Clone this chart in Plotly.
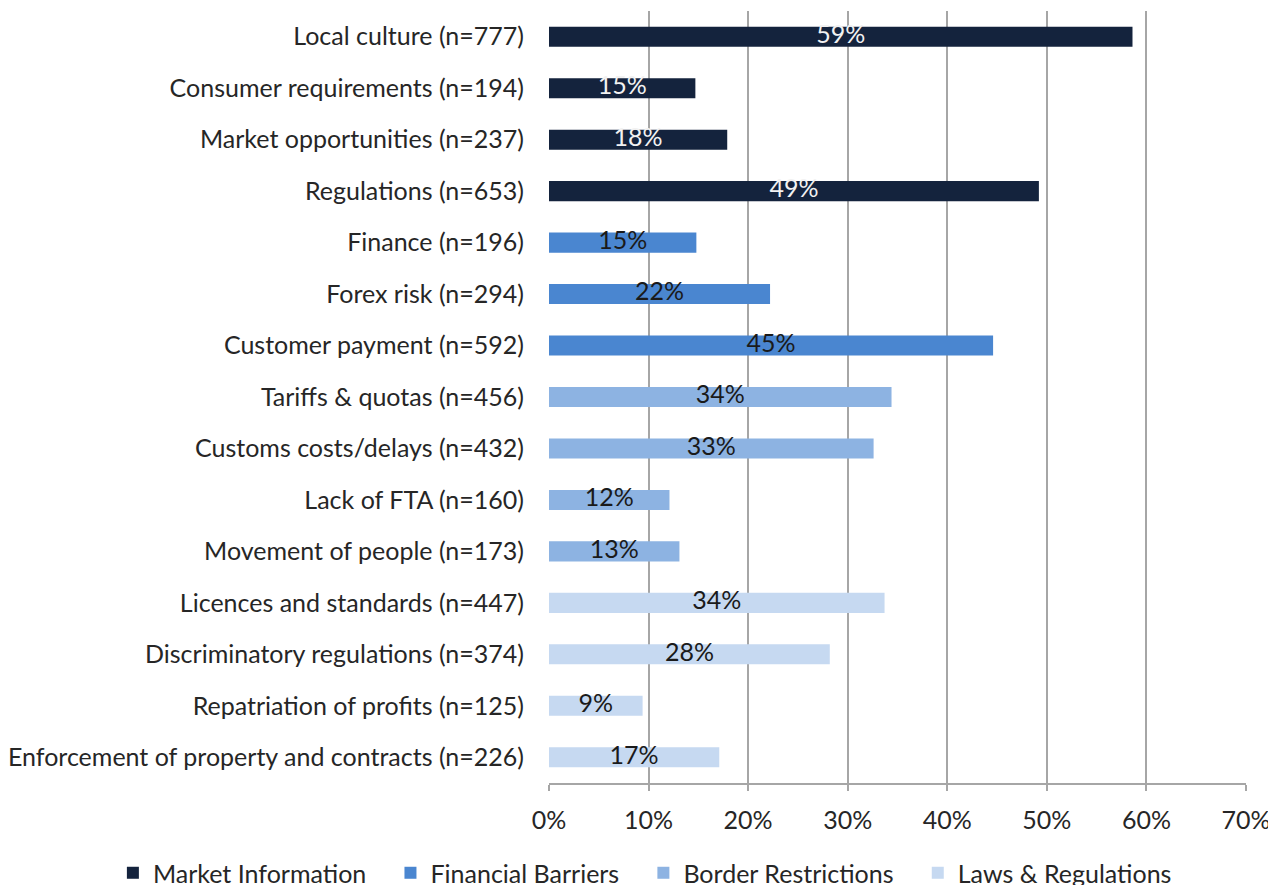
import plotly.graph_objects as go

categories = [
    "Local culture (n=777)",
    "Consumer requirements (n=194)",
    "Market opportunities (n=237)",
    "Regulations (n=653)",
    "Finance (n=196)",
    "Forex risk (n=294)",
    "Customer payment (n=592)",
    "Tariffs & quotas (n=456)",
    "Customs costs/delays (n=432)",
    "Lack of FTA (n=160)",
    "Movement of people (n=173)",
    "Licences and standards (n=447)",
    "Discriminatory regulations (n=374)",
    "Repatriation of profits (n=125)",
    "Enforcement of property and contracts (n=226)",
]
values = [0.586, 0.147, 0.179, 0.492, 0.148, 0.222, 0.446, 0.344, 0.326, 0.121, 0.131, 0.337, 0.282, 0.094, 0.171]
groups = ["Market Information"] * 4 + ["Financial Barriers"] * 3 + ["Border Restrictions"] * 4 + ["Laws & Regulations"] * 4
group_names = ["Market Information", "Financial Barriers", "Border Restrictions", "Laws & Regulations"]
group_colors = {"Market Information": "#14233D", "Financial Barriers": "#4A86D0",
                "Border Restrictions": "#8DB3E2", "Laws & Regulations": "#C6D9F1"}
label_colors = {"Market Information": "#F2F2F2", "Financial Barriers": "#1A1A1A",
                "Border Restrictions": "#1A1A1A", "Laws & Regulations": "#1A1A1A"}
x_ticks = [0, 0.1, 0.2, 0.3, 0.4, 0.5, 0.6, 0.7]

FONT = "Lato, Carlito, 'Open Sans', sans-serif"
FS = 25
PAD = "\u00a0" * 3

fig = go.Figure()
for i, g in enumerate(group_names):
    ys = [c for c, gg in zip(categories, groups) if gg == g]
    xs = [v for v, gg in zip(values, groups) if gg == g]
    fig.add_trace(go.Bar(
        y=ys, x=xs, orientation="h",
        name=g + (PAD if i < len(group_names) - 1 else ""),
        marker=dict(color=group_colors[g], line=dict(width=0)),
        width=0.39,
    ))
for g in group_names:
    ys = [c for c, gg in zip(categories, groups) if gg == g]
    xs = [v for v, gg in zip(values, groups) if gg == g]
    fig.add_trace(go.Scatter(
        y=ys, x=[v / 2 for v in xs], mode="text",
        text=[f"{round(v * 100):d}%" for v in xs],
        textposition="middle center",
        textfont=dict(family=FONT, size=FS, color=label_colors[g]),
        showlegend=False, hoverinfo="skip",
    ))

fig.update_layout(
    width=1276, height=900,
    margin=dict(l=541, r=38, t=3, b=125),
    paper_bgcolor="white", plot_bgcolor="white",
    barmode="relative",
    font=dict(family=FONT, size=FS, color="#262626"),
    showlegend=True,
    legend=dict(orientation="h", xref="paper", x=-0.6257, xanchor="left",
                yref="paper", y=-0.1166, yanchor="middle",
                font=dict(family=FONT, size=FS, color="#262626"),
                itemwidth=30, traceorder="normal"),
)
fig.update_xaxes(
    range=[0, 0.7], tickvals=x_ticks, tickformat=".0%",
    showgrid=True, gridcolor="#A6A6A6", gridwidth=1.5,
    showline=True, linecolor="#A6A6A6", linewidth=1.5,
    ticks="outside", ticklen=6, tickcolor="#A6A6A6", tickwidth=1.5,
    zeroline=False, ticklabelstandoff=8, automargin=False,
    tickfont=dict(family=FONT, size=FS, color="#262626"),
)
fig.update_yaxes(
    categoryorder="array", categoryarray=categories,
    range=[len(categories) - 0.5, -0.5], autorange=False,
    showgrid=False, zeroline=False, showline=False,
    ticks="", ticklabelstandoff=24, automargin=False,
    tickfont=dict(family=FONT, size=FS, color="#262626"),
)

fig.write_html("out.html")
